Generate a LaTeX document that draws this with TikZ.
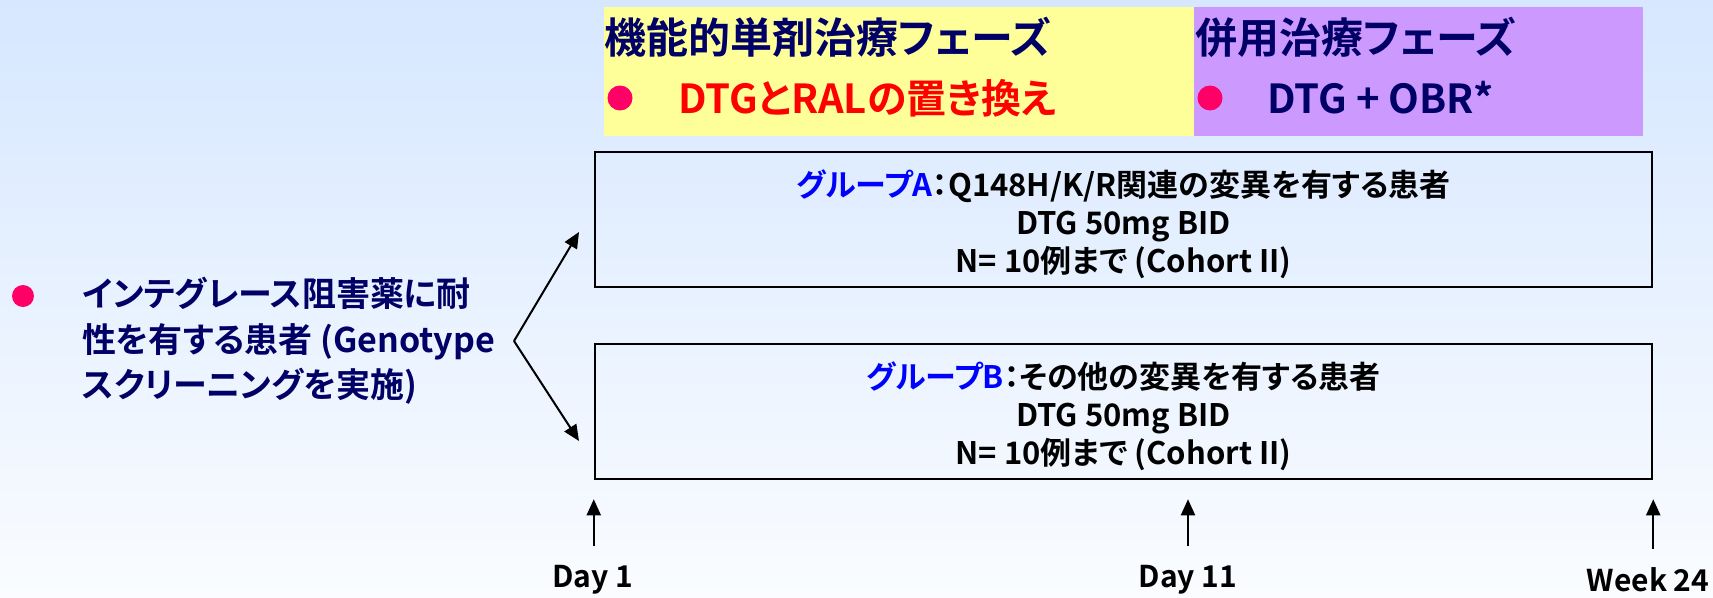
\documentclass[tikz,border=0pt]{standalone}
\usepackage{fontspec}
\setmainfont{Noto Sans CJK JP}[BoldFont={* Bold},RawFeature={+palt}]
\usetikzlibrary{arrows.meta,positioning}
\definecolor{navy}{RGB}{0,0,102}
\definecolor{phaseyellow}{RGB}{255,255,153}
\definecolor{phasepurple}{RGB}{204,153,255}
\definecolor{dotpink}{RGB}{255,0,102}
\definecolor{bgtop}{RGB}{214,231,255}
\definecolor{bgbot}{RGB}{250,252,255}
\newcommand{\fsz}[2]{\fontsize{#1}{#2}\selectfont}

\begin{document}
\begin{tikzpicture}[x=1pt,y=-1pt,
	txt/.style={inner sep=0pt, font=\bfseries},
	bulletdot/.style={circle, fill=dotpink, inner sep=0pt, minimum size=#1},
	phasebox/.style={anchor=north west, inner sep=0pt, minimum height=129pt},
	groupbox/.style={draw=black, line width=2.5pt, minimum width=1057pt, minimum height=135pt, inner sep=0pt},
	grouptext/.style={inner sep=0pt, align=center, font=\bfseries\fsz{31}{38}},
	arr/.style={line width=2pt, -{Triangle[length=16pt,width=14pt]}}]
			%%%%% START %%%%%
			
			\useasboundingbox (0,0) rectangle (1713,597);
			\shade[top color=bgtop, bottom color=bgbot] (0,0) rectangle (1713,597);
			
			% phases
			\node[phasebox, fill=phaseyellow, minimum width=590pt] (monoPhase) at (604,7) {};
			\node[phasebox, fill=phasepurple, minimum width=449pt] (comboPhase) at (1194,7) {};
			
			\node[txt, anchor=west, text=navy, font=\bfseries\fsz{42}{48}] (monoTitle) at (604,37) {機能的単剤治療フェーズ};
			\node[bulletdot=25pt] (monoDot) at (620,98) {};
			\node[txt, anchor=west, text=red, font=\bfseries\fsz{40}{46}] (monoDrug) at (678,98) {DTGとRALの置き換え};
			
			\node[txt, anchor=west, text=navy, font=\bfseries\fsz{42}{48}] (comboTitle) at (1195,37) {併用治療フェーズ};
			\node[bulletdot=25pt] (comboDot) at (1210,98) {};
			\node[txt, anchor=west, text=navy, font=\bfseries\fsz{40}{46}] (comboDrug) at (1267,98) {DTG + OBR*};
			
			% groups
			\node[groupbox] (grpA) at (1123.5,219.5) {};
			\node[grouptext] (grpAtext) at ([yshift=-5pt]grpA.center) {\textcolor{blue}{グループA}：Q148H/K/R関連の変異を有する患者\\DTG 50mg BID\\N= 10例まで (Cohort II)};
			\node[groupbox] (grpB) at (1123.5,411.5) {};
			\node[grouptext] (grpBtext) at ([yshift=-5pt]grpB.center) {\textcolor{blue}{グループB}：その他の変異を有する患者\\DTG 50mg BID\\N= 10例まで (Cohort II)};
			
			% patients
			\node[bulletdot=22pt] (ptDot) at (23,296) {};
			\node[txt, anchor=west, align=left, text=navy, font=\bfseries\fsz{34}{45.5}] (patients) at (82,341) {インテグレース阻害薬に耐\\性を有する患者 (Genotype\\スクリーニングを実施)};
			
			\coordinate (fork) at (514,341);
			\coordinate (tipA) at (579,232);
			\coordinate (tipB) at (579,441);
			\draw[arr] (fork) -- (tipA);
			\draw[arr] (fork) -- (tipB);
			
			% timeline
			\node[txt, font=\bfseries\fsz{30}{34}] (day1) at (593,580) {Day 1};
			\node[txt, font=\bfseries\fsz{30}{34}] (day11) at (1188,580) {Day 11};
			\node[txt, font=\bfseries\fsz{30}{34}] (week24) at (1648,580) {Week 24};
			
			\draw[arr, shorten <=19pt, shorten >=19pt] (day1.north -| grpB.south west) -- (grpB.south west);
			\draw[arr, shorten <=19pt, shorten >=19pt] (day11.north) -- (day11.north |- grpB.south);
			\draw[arr, shorten <=19pt, shorten >=19pt] (week24.north -| grpB.south east) -- (grpB.south east);
			
			%%%%% END %%%%%
\end{tikzpicture}
\end{document}
